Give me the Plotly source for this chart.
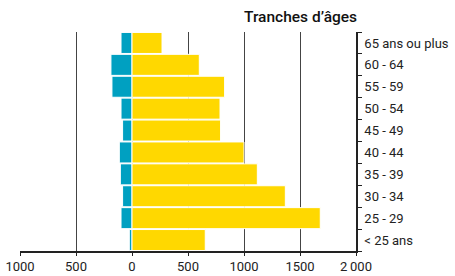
import plotly.graph_objects as go

categories = ["< 25 ans", "25 - 29", "30 - 34", "35 - 39", "40 - 44",
              "45 - 49", "50 - 54", "55 - 59", "60 - 64", "65 ans ou plus"]
left_values = [-24, -98, -84, -104, -113, -84, -98, -179, -188, -98]
right_values = [654, 1681, 1369, 1119, 1000, 791, 786, 827, 601, 268]
tick_vals = [-1000, -500, 0, 500, 1000, 1500, 2000]
tick_text = ["1000", "500", "0", "500", "1000", "1500", "2\u2009000"]

font_family = "Roboto, 'Open Sans', sans-serif"

fig = go.Figure()
fig.add_trace(go.Bar(y=categories, x=left_values, orientation="h",
                     marker=dict(color="#00A0C1", line=dict(color="white", width=1)),
                     showlegend=False))
fig.add_trace(go.Bar(y=categories, x=right_values, orientation="h",
                     marker=dict(color="#FFD800", line=dict(color="white", width=1)),
                     showlegend=False))

fig.update_layout(
    width=455, height=276,
    margin=dict(l=20, r=99, t=32, b=25),
    paper_bgcolor="white", plot_bgcolor="white",
    barmode="relative", bargap=0.04,
    font=dict(family=font_family, size=13, color="#222"),
    xaxis=dict(range=[-1000, 2000], tickvals=tick_vals, ticktext=tick_text,
               showgrid=True, gridcolor="#444", gridwidth=1, zeroline=False,
               showline=True, linecolor="#222", linewidth=1.5,
               ticks="outside", ticklen=3, tickcolor="#222", automargin=False,
               tickfont=dict(size=13), fixedrange=True),
    yaxis=dict(categoryorder="array", categoryarray=categories, side="right",
               showline=True, linecolor="#222", linewidth=1.5,
               ticks="outside", tickson="boundaries", ticklen=4, tickcolor="#222",
               automargin=False, ticklabelstandoff=4,
               showgrid=False, tickfont=dict(size=13), fixedrange=True),
    annotations=[dict(text="Tranches d\u2019âges", xref="paper", yref="paper",
                      x=1.0, y=1.0, xanchor="right", yanchor="bottom",
                      yshift=4, xshift=3,
                      showarrow=False, font=dict(size=15.5, color="#111", weight=500))],
)

fig.write_html("out.html", config={"displayModeBar": False},
               post_script="document.body.style.margin='0';")
